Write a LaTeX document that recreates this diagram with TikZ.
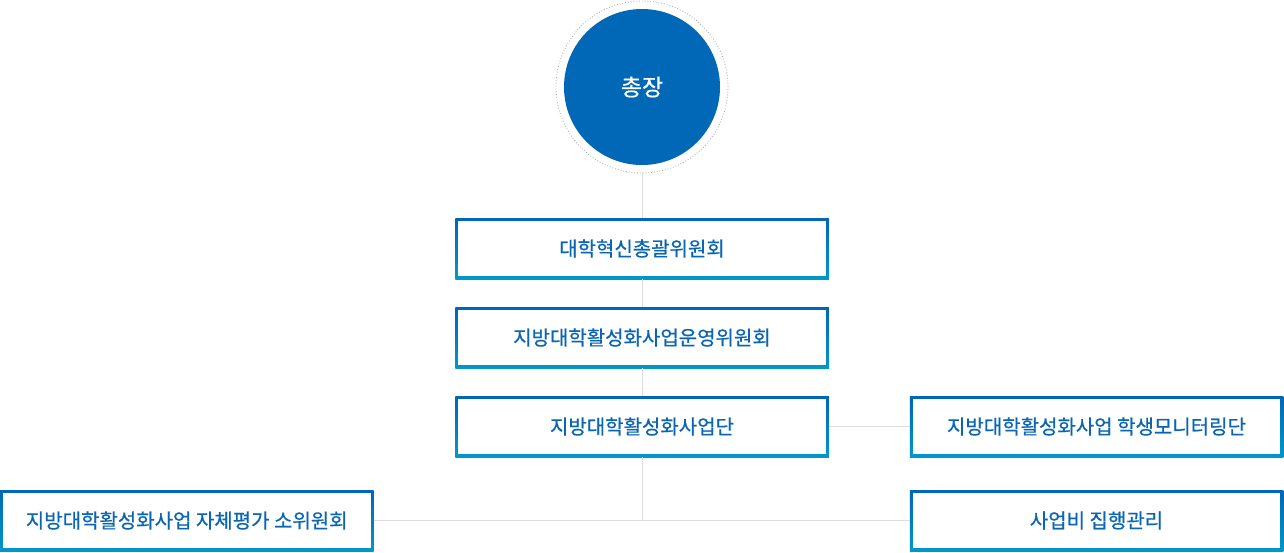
\documentclass[tikz,border=0pt]{standalone}
\usepackage{fontspec}
\newfontfamily\kr{Noto Sans CJK KR}[FakeBold=0.6]
\begin{document}
\begin{tikzpicture}[x=1pt,y=-1pt,
  conn/.style={draw=linegray,line width=1pt},
  orgbox/.style={minimum width=373.5pt,minimum height=61pt,inner sep=0pt,
    top color=boxtop,bottom color=boxbot,
    path picture={\fill[white] ([shift={(3pt,-3pt)}]path picture bounding box.north west) rectangle ([shift={(-3pt,3pt)}]path picture bounding box.south east);},
    font=\kr\fontsize{20}{22}\selectfont, text=textblue},
]
\definecolor{boxtop}{HTML}{0066B6}
\definecolor{boxbot}{HTML}{0098C8}
\definecolor{textblue}{HTML}{0A66B2}
\definecolor{linegray}{HTML}{DDDDDD}
\definecolor{chiefblue}{HTML}{0068B7}
\useasboundingbox[fill=white] (0,0) rectangle (1284,552);
% chief
\node[circle,draw=gray!70,dotted,line width=0.8pt,minimum size=172pt,inner sep=0pt] (outer) at (642,87) {};
\node[circle,fill=chiefblue,minimum size=156pt,inner sep=0pt,text=white,font=\kr\fontsize{23}{25}\selectfont] (chief) at (642,87) {총장};
% boxes
\node[orgbox] (b1) at (642,248.5) {대학혁신총괄위원회};
\node[orgbox] (b2) at (642,337.5) {지방대학활성화사업운영위원회};
\node[orgbox] (b3) at (642,426.5) {지방대학활성화사업단};
\node[orgbox] (b4) at (1096.5,426.5) {지방대학활성화사업 학생모니터링단};
\node[orgbox] (b5) at (186.75,520.5) {지방대학활성화사업 자체평가 소위원회};
\node[orgbox] (b6) at (1096.5,520.5) {사업비 집행관리};
\coordinate (j) at (642,520.5);
% connectors
\draw[conn] (outer.south) -- (b1.north);
\draw[conn] (b1.south) -- (b2.north);
\draw[conn] (b2.south) -- (b3.north);
\draw[conn] (b3.east) -- (b4.west);
\draw[conn] (b3.south) -- (j);
\draw[conn] (b5.east) -- (b6.west);
\end{tikzpicture}
\end{document}
